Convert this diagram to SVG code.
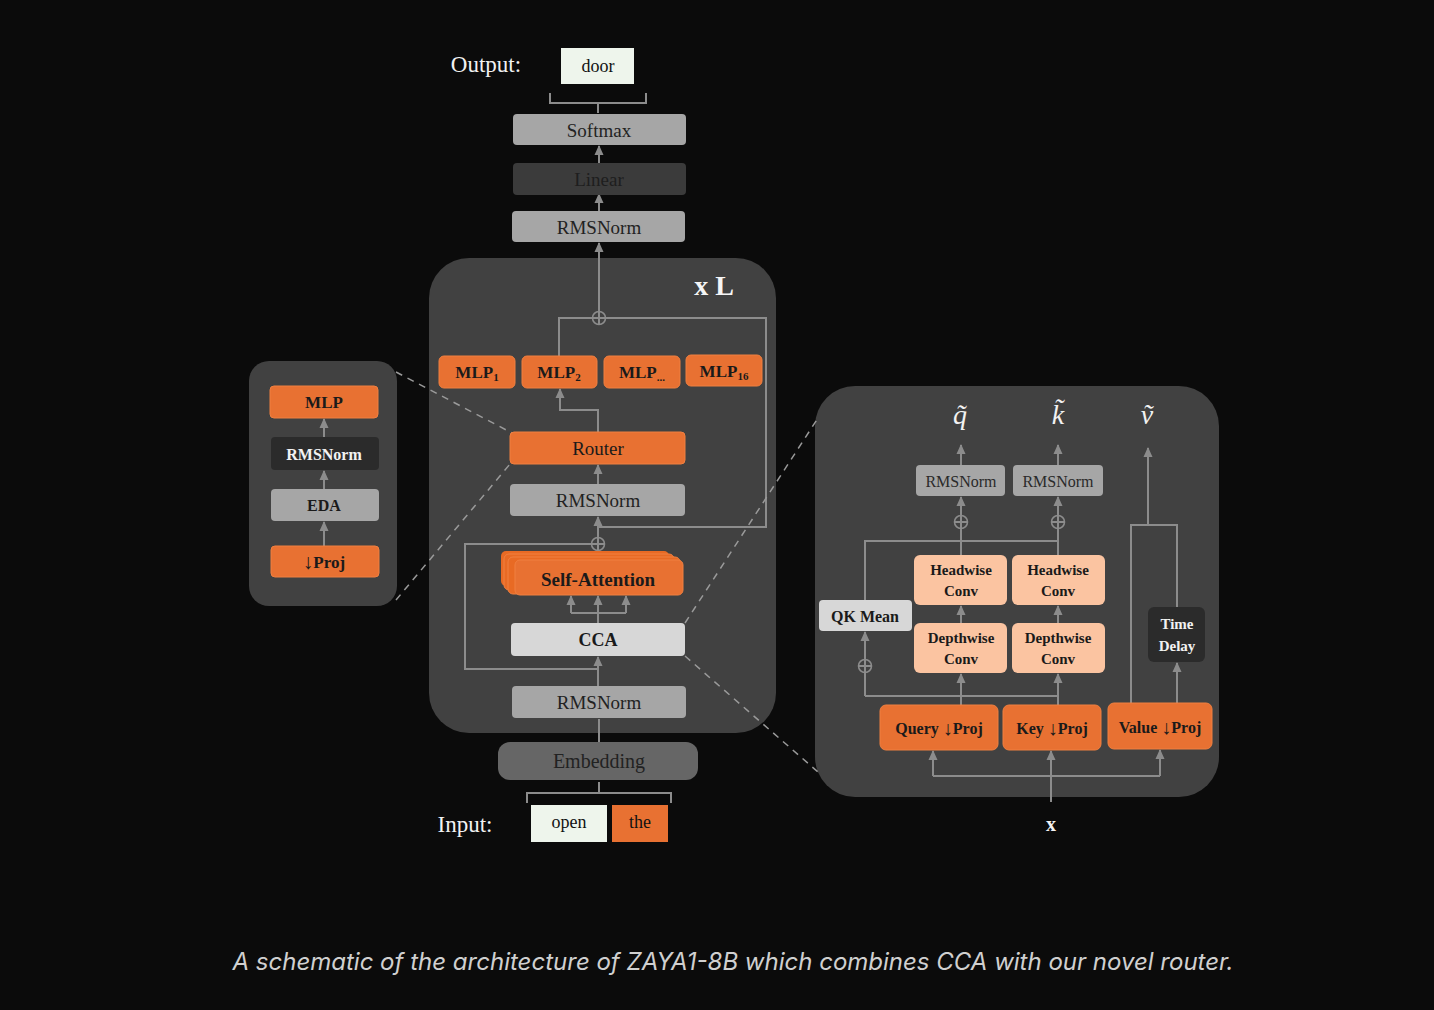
<svg xmlns="http://www.w3.org/2000/svg" width="1434" height="1010" viewBox="0 0 1434 1010">
<defs>
<marker id="ah" viewBox="0 0 10 10" refX="9" refY="5" markerWidth="10" markerHeight="10" orient="auto" markerUnits="userSpaceOnUse">
<path d="M0,0.5 L10,5 L0,9.5 z" fill="#8c8c8c"/>
</marker>
<style>
.ln{stroke:#8c8c8c;stroke-width:2;fill:none}
.ar{stroke:#8c8c8c;stroke-width:2;fill:none;marker-end:url(#ah)}
.ds{stroke:#9a9a9a;stroke-width:1.5;fill:none;stroke-dasharray:7 6}
.panel{fill:#414141}
.or{fill:#e87132;stroke:#f08040;stroke-width:1}
.gr{fill:#a6a6a6}
.lg{fill:#d7d7d7}
.dk{fill:#2b2b2b}
.pe{fill:#fbc4a1}
.t{font-family:"Liberation Serif",serif;text-anchor:middle;dominant-baseline:central}
.b{font-weight:bold}
.circ{fill:none;stroke:#8c8c8c;stroke-width:1.6}
</style>
</defs>
<rect width="1434" height="1010" fill="#0b0b0b"/>

<!-- panels -->
<rect class="panel" x="429" y="258" width="347" height="475" rx="40"/>
<rect class="panel" x="249" y="361" width="148" height="245" rx="20"/>
<rect class="panel" x="815" y="386" width="404" height="411" rx="40"/>

<!-- connectors -->
<g id="connectors">
<!-- top -->
<path class="ln" d="M550,93 v10 h96 v-10 M598,103 v10"/>
<path class="ar" d="M599,163 v-17"/>
<path class="ar" d="M599,211 v-17"/>
<path class="ar" d="M599,312 V243"/>
<path class="ln" d="M559,356 V318 H766 V527 H599"/>
<circle class="circ" cx="599" cy="318" r="6.5"/>
<path class="ln" d="M592.5,318 H605.5 M599,311.5 V324.5" stroke-width="1.6"/>
<path class="ar" d="M598,432 V410 H560 V389"/>
<path class="ar" d="M598,484 V465"/>
<path class="ar" d="M598,553 V517"/>
<circle class="circ" cx="598" cy="544" r="6.5"/>
<path class="ln" d="M591.5,544 H604.5 M598,537.5 V550.5" stroke-width="1.6"/>
<path class="ln" d="M591,544 H465 V669 H598"/>
<path class="ln" d="M598,623 V613 M571,613 H626"/>
<path class="ar" d="M571,613 V596"/>
<path class="ar" d="M598,613 V596"/>
<path class="ar" d="M626,613 V596"/>
<path class="ar" d="M598,686 V657"/>
<path class="ln" d="M599,742 V719"/>
<path class="ln" d="M527,803 v-10 h144 v10 M599,793 v-11"/>
<!-- left panel -->
<path class="ar" d="M324,437 V419"/>
<path class="ar" d="M324,489 V471"/>
<path class="ar" d="M324,546 V522"/>
<!-- dashed -->
<path class="ds" d="M396,372 L512,433 M396,600 L510,464 M685,623 L818,418 M685,656 L818,772"/>
<!-- right panel -->
<path class="ar" d="M961,465 V445"/>
<path class="ar" d="M1058,465 V445"/>
<path class="ar" d="M961,555 V497"/>
<path class="ar" d="M1058,555 V497"/>
<circle class="circ" cx="961" cy="522" r="6.5"/>
<path class="ln" d="M954.5,522 H967.5" stroke-width="1.6"/>
<circle class="circ" cx="1058" cy="522" r="6.5"/>
<path class="ln" d="M1051.5,522 H1064.5" stroke-width="1.6"/>
<path class="ln" d="M865,600 V541 H1058"/>
<path class="ar" d="M961,623 V606"/>
<path class="ar" d="M1058,623 V606"/>
<path class="ar" d="M865,696 V632"/>
<circle class="circ" cx="865" cy="666" r="6.5"/>
<path class="ln" d="M858.5,666 H871.5" stroke-width="1.6"/>
<path class="ln" d="M865,696 H1058"/>
<path class="ar" d="M961,705 V674"/>
<path class="ar" d="M1058,705 V674"/>
<path class="ln" d="M1131,703 V525 H1177 V607"/>
<path class="ar" d="M1148,525 V448"/>
<path class="ar" d="M1177,703 V663"/>
<path class="ar" d="M1051,802 V751"/>
<path class="ln" d="M933,776 H1160"/>
<path class="ar" d="M933,776 V751"/>
<path class="ar" d="M1160,776 V750"/>
</g>

<!-- top texts -->
<text class="t" x="486" y="64" font-size="23" fill="#f2f2f2">Output:</text>
<g id="door"><rect x="561" y="48" width="73" height="36" fill="#eef5ec"/><text class="t" x="598" y="66" font-size="18" fill="#111">door</text></g>
<g id="softmax"><rect class="gr" x="513" y="114" width="173" height="31" rx="4"/><text class="t" x="599" y="130" font-size="19" fill="#222">Softmax</text></g>
<g id="linear"><rect x="513" y="163" width="173" height="32" rx="4" fill="#3b3b3b"/><text class="t" x="599" y="179" font-size="19" fill="#1e1e1e">Linear</text></g>
<g id="rmsnorm_top"><rect class="gr" x="512" y="211" width="173" height="31" rx="4"/><text class="t" x="599" y="227" font-size="19" fill="#222">RMSNorm</text></g>

<text class="t b" x="714" y="285" font-size="28" fill="#f5f5f5">x L</text>

<g id="mlp1"><rect class="or" x="439" y="356" width="76" height="32" rx="5"/><text class="t b" x="477" y="372" font-size="17" fill="#1a1a1a">MLP<tspan font-size="11" dy="5">1</tspan></text></g>
<g id="mlp2"><rect class="or" x="522" y="356" width="75" height="32" rx="5"/><text class="t b" x="559" y="372" font-size="17" fill="#1a1a1a">MLP<tspan font-size="11" dy="5">2</tspan></text></g>
<g id="mlpdots"><rect class="or" x="604" y="356" width="76" height="32" rx="5"/><text class="t b" x="642" y="372" font-size="17" fill="#1a1a1a">MLP<tspan font-size="11" dy="5">...</tspan></text></g>
<g id="mlp16"><rect class="or" x="686" y="355" width="76" height="31" rx="5"/><text class="t b" x="724" y="371" font-size="17" fill="#1a1a1a">MLP<tspan font-size="11" dy="5">16</tspan></text></g>

<g id="router"><rect class="or" x="510" y="432" width="175" height="32" rx="4"/><text class="t" x="598" y="448" font-size="19" fill="#1a1a1a">Router</text></g>
<g id="rmsnorm_mid"><rect class="gr" x="510" y="484" width="175" height="32" rx="4"/><text class="t" x="598" y="500" font-size="19" fill="#222">RMSNorm</text></g>

<g id="selfattn">
<rect x="501" y="551" width="168" height="35" rx="5" fill="#e86a24"/>
<rect x="504" y="554" width="170" height="36" rx="5" fill="#e86a24" stroke="#f08040"/>
<rect x="508" y="557" width="172" height="37" rx="5" fill="#e86a24" stroke="#f08040"/>
<rect class="or" x="515" y="560" width="168" height="35" rx="5"/>
<text class="t b" x="598" y="579" font-size="19" fill="#1a1a1a">Self-Attention</text>
</g>
<g id="cca"><rect class="lg" x="511" y="623" width="174" height="33" rx="4"/><text class="t b" x="598" y="640" font-size="18" fill="#1a1a1a">CCA</text></g>
<g id="rmsnorm_bot"><rect class="gr" x="512" y="686" width="174" height="32" rx="4"/><text class="t" x="599" y="702" font-size="19" fill="#222">RMSNorm</text></g>
<g id="embedding"><rect x="498" y="742" width="200" height="38" rx="12" fill="#666666"/><text class="t" x="599" y="761" font-size="20" fill="#222">Embedding</text></g>

<text class="t" x="465" y="824" font-size="23" fill="#f2f2f2">Input:</text>
<g id="open"><rect x="531" y="805" width="76" height="37" fill="#eef5ec"/><text class="t" x="569" y="822" font-size="18" fill="#111">open</text></g>
<g id="the"><rect x="612" y="805" width="56" height="37" fill="#e87132"/><text class="t" x="640" y="822" font-size="18" fill="#111">the</text></g>

<!-- left panel nodes -->
<g id="l_mlp"><rect class="or" x="270" y="386" width="108" height="32" rx="4"/><text class="t b" x="324" y="402" font-size="17" fill="#1a1a1a">MLP</text></g>
<g id="l_rms"><rect class="dk" x="271" y="437" width="108" height="33" rx="4"/><text class="t b" x="324" y="454" font-size="16" fill="#f2f2f2">RMSNorm</text></g>
<g id="l_eda"><rect class="gr" x="271" y="489" width="108" height="32" rx="4"/><text class="t b" x="324" y="505" font-size="16" fill="#1a1a1a">EDA</text></g>
<g id="l_proj"><rect class="or" x="271" y="546" width="108" height="31" rx="4"/><text class="t b" x="324" y="562" font-size="17" fill="#1a1a1a"><tspan font-size="21">↓</tspan>Proj</text></g>

<!-- right panel nodes -->
<text class="t" x="960" y="414" font-size="28" font-style="italic" fill="#f2f2f2">q̃</text>
<text class="t" x="1058" y="414" font-size="28" font-style="italic" fill="#f2f2f2">k̃</text>
<text class="t" x="1147" y="414" font-size="28" font-style="italic" fill="#f2f2f2">ṽ</text>
<g id="r_rms_q"><rect class="gr" x="916" y="465" width="89" height="31" rx="4"/><text class="t" x="961" y="481" font-size="16" fill="#2a2a2a">RMSNorm</text></g>
<g id="r_rms_k"><rect class="gr" x="1013" y="465" width="90" height="31" rx="4"/><text class="t" x="1058" y="481" font-size="16" fill="#2a2a2a">RMSNorm</text></g>
<g id="hw_q"><rect class="pe" x="914" y="555" width="93" height="50" rx="6"/><text class="t b" x="961" y="570" font-size="15" fill="#1a1a1a">Headwise</text><text class="t b" x="961" y="591" font-size="15" fill="#1a1a1a">Conv</text></g>
<g id="hw_k"><rect class="pe" x="1012" y="555" width="93" height="50" rx="6"/><text class="t b" x="1058" y="570" font-size="15" fill="#1a1a1a">Headwise</text><text class="t b" x="1058" y="591" font-size="15" fill="#1a1a1a">Conv</text></g>
<g id="dw_q"><rect class="pe" x="914" y="623" width="93" height="50" rx="6"/><text class="t b" x="961" y="638" font-size="15" fill="#1a1a1a">Depthwise</text><text class="t b" x="961" y="659" font-size="15" fill="#1a1a1a">Conv</text></g>
<g id="dw_k"><rect class="pe" x="1012" y="623" width="93" height="50" rx="6"/><text class="t b" x="1058" y="638" font-size="15" fill="#1a1a1a">Depthwise</text><text class="t b" x="1058" y="659" font-size="15" fill="#1a1a1a">Conv</text></g>
<g id="qkmean"><rect class="lg" x="819" y="600" width="93" height="31" rx="4"/><text class="t b" x="865" y="616" font-size="16" fill="#1a1a1a">QK Mean</text></g>
<g id="timedelay"><rect class="dk" x="1148" y="607" width="57" height="55" rx="6"/><text class="t b" x="1177" y="624" font-size="15" fill="#f2f2f2">Time</text><text class="t b" x="1177" y="646" font-size="15" fill="#f2f2f2">Delay</text></g>
<g id="qproj"><rect class="or" x="880" y="705" width="118" height="45" rx="6"/><text class="t b" x="939" y="728" font-size="16" fill="#1a1a1a">Query <tspan font-size="20">↓</tspan>Proj</text></g>
<g id="kproj"><rect class="or" x="1003" y="705" width="98" height="45" rx="6"/><text class="t b" x="1052" y="728" font-size="16" fill="#1a1a1a">Key <tspan font-size="20">↓</tspan>Proj</text></g>
<g id="vproj"><rect class="or" x="1108" y="703" width="104" height="46" rx="6"/><text class="t b" x="1160" y="727" font-size="16" fill="#1a1a1a">Value <tspan font-size="20">↓</tspan>Proj</text></g>
<text class="t b" x="1051" y="824" font-size="20" fill="#f2f2f2">x</text>

<text x="733" y="970" font-family="Inter,'Open Sans',sans-serif" font-style="italic" font-size="24" fill="#d0d0d0" text-anchor="middle">A schematic of the architecture of ZAYA1-8B which combines CCA with our novel router.</text>
</svg>
